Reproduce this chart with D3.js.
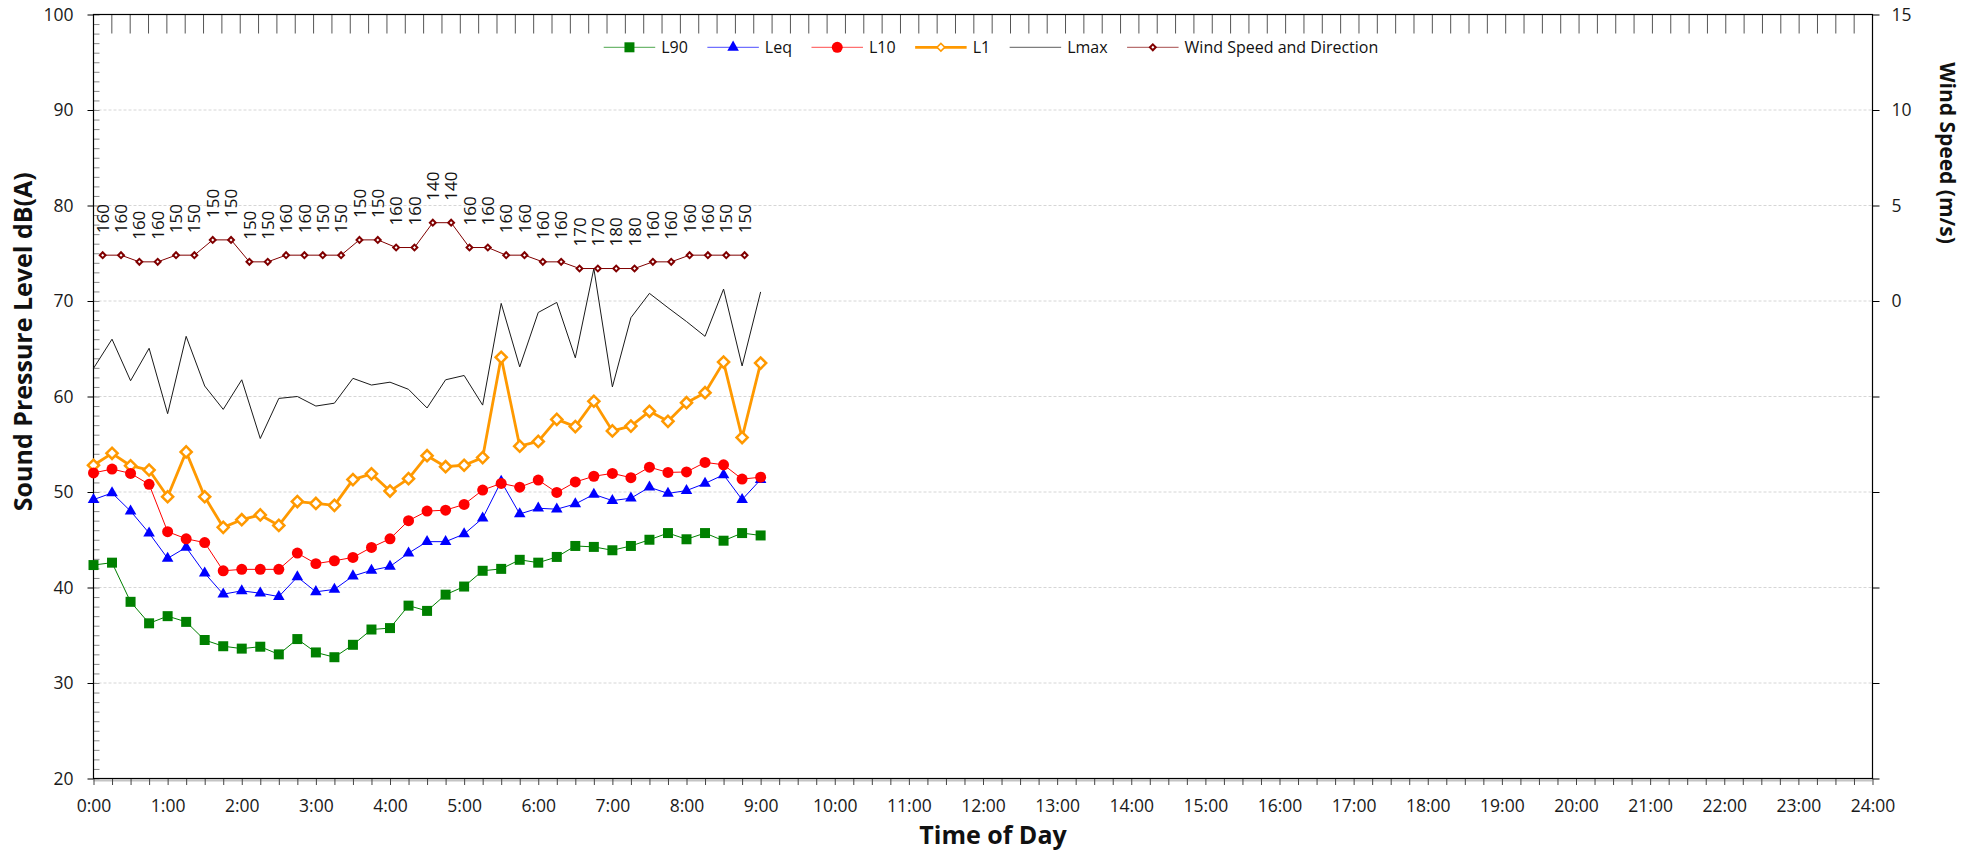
<!DOCTYPE html>
<html><head><meta charset="utf-8">
<script src="https://cdn.jsdelivr.net/npm/d3@7"></script>
<style>
body{margin:0;background:#fff;}
svg{display:block;font-family:"Open Sans","Noto Sans",sans-serif;}
</style>
</head><body>
<svg id="chart" width="1979" height="852"></svg>
<script>
// ---------- data ----------
const times = ["0:00","0:15","0:30","0:45","1:00","1:15","1:30","1:45","2:00","2:15","2:30","2:45",
  "3:00","3:15","3:30","3:45","4:00","4:15","4:30","4:45","5:00","5:15","5:30","5:45",
  "6:00","6:15","6:30","6:45","7:00","7:15","7:30","7:45","8:00","8:15","8:30","8:45","9:00"];
const L90 = [42.35,42.6,38.5,36.25,37.0,36.4,34.5,33.85,33.6,33.8,33.0,34.6,33.2,32.7,34.0,35.6,35.75,38.1,37.55,39.25,
  40.1,41.75,41.95,42.9,42.6,43.2,44.35,44.25,43.9,44.35,45.0,45.7,45.05,45.7,44.9,45.7,45.45];
const Leq = [49.2,49.9,48.0,45.7,43.05,44.2,41.5,39.3,39.65,39.4,39.05,41.1,39.55,39.8,41.2,41.8,42.2,43.6,44.8,44.8,
  45.6,47.25,51.1,47.7,48.3,48.2,48.75,49.75,49.1,49.35,50.5,49.85,50.15,50.9,51.8,49.2,51.3];
const L10 = [52.0,52.4,51.95,50.8,45.85,45.1,44.7,41.75,41.9,41.9,41.9,43.6,42.5,42.8,43.15,44.2,45.1,47.0,48.0,48.1,
  48.7,50.2,50.9,50.5,51.25,49.95,51.05,51.65,51.95,51.5,52.6,52.05,52.1,53.1,52.85,51.35,51.55];
const L1 = [52.8,54.05,52.75,52.3,49.5,54.2,49.5,46.3,47.1,47.6,46.5,49.0,48.8,48.6,51.3,51.9,50.1,51.4,53.8,52.65,
  52.8,53.6,64.1,54.8,55.3,57.6,56.85,59.5,56.4,56.9,58.45,57.4,59.35,60.4,63.6,55.7,63.5];
const Lmax = [62.95,66.0,61.65,65.05,58.2,66.3,61.1,58.65,61.75,55.6,59.8,60.0,59.0,59.3,61.9,61.2,61.5,60.75,58.8,61.75,
  62.2,59.1,69.75,63.1,68.8,69.85,64.05,73.4,61.0,68.25,70.8,69.3,67.85,66.3,71.25,63.2,70.95];

const windTimes = ["0:00","0:15","0:30","0:45","1:00","1:15","1:30","1:45","2:00","2:15","2:30","2:45",
  "3:00","3:15","3:30","3:45","4:00","4:15","4:30","4:45","5:00","5:15","5:30","5:45",
  "6:00","6:15","6:30","6:45","7:00","7:15","7:30","7:45","8:00","8:15","8:30","8:45"];
const windSpeed = [2.4,2.4,2.05,2.05,2.4,2.4,3.2,3.2,2.05,2.05,2.4,2.4,2.4,2.4,3.2,3.2,2.8,2.8,4.1,4.1,
  2.8,2.8,2.4,2.4,2.05,2.05,1.7,1.7,1.7,1.7,2.05,2.05,2.4,2.4,2.4,2.4];
const windDir = [160,160,160,160,150,150,150,150,150,150,160,160,150,150,150,150,160,160,140,140,
  160,160,160,160,160,160,170,170,180,180,160,160,160,160,150,150];

const hourLabels = ["0:00","1:00","2:00","3:00","4:00","5:00","6:00","7:00","8:00","9:00","10:00","11:00","12:00",
  "13:00","14:00","15:00","16:00","17:00","18:00","19:00","20:00","21:00","22:00","23:00","24:00"];
const dbTicks = [20,30,40,50,60,70,80,90,100];
const windTicks = [-25,-20,-15,-10,-5,0,5,10,15];

// ---------- layout ----------
const L = 93.5, R = 1872.5, T = 14.5, B = 778.5;
const svg = d3.select("#chart");
const parseT = t => { const p = t.split(":").map(Number); return p[0] + p[1] / 60; };

const x = d3.scaleLinear().domain([0, 24]).range([L, R]);
const y = d3.scaleLinear().domain([20, 100]).range([B, T]);
const y2 = d3.scaleLinear().domain([-25, 15]).range([B, T]);
const xc = d3.scaleBand().domain(d3.range(97)).range([L, R]).padding(0);
const xw = t => xc(Math.round(parseT(t) * 4)) + xc.bandwidth() / 2;

// gridlines
svg.append("g").selectAll("line").data(dbTicks.filter(v => v > 20 && v < 100)).join("line")
  .attr("x1", L).attr("x2", R).attr("y1", d => y(d)).attr("y2", d => y(d))
  .attr("stroke", "#d6d6d6").attr("stroke-width", 1).attr("stroke-dasharray", "3,2");

// top category ticks (secondary x axis)
svg.append("g").selectAll("line").data(d3.range(98)).join("line")
  .attr("x1", k => L + k * xc.bandwidth()).attr("x2", k => L + k * xc.bandwidth())
  .attr("y1", T).attr("y2", T + 19).attr("stroke", "#555").attr("stroke-width", 1);

// left minor ticks (inward)
const minor = svg.append("g").attr("transform", `translate(${L},0)`)
  .call(d3.axisRight(y).tickValues(d3.range(20, 101, 1)).tickSize(6).tickFormat(""));
minor.select(".domain").remove();
minor.selectAll("line").attr("stroke", "#8a8a8a");

// left major axis
const ax = svg.append("g").attr("transform", `translate(${L},0)`)
  .call(d3.axisLeft(y).tickValues(dbTicks).tickSize(6).tickPadding(14).tickFormat(d3.format("d")));
ax.select(".domain").remove();
ax.selectAll("text").attr("font-size", 17.5).attr("fill", "#1a1a1a").attr("font-family", "Open Sans");

// right axis
const ax2 = svg.append("g").attr("transform", `translate(${R},0)`)
  .call(d3.axisRight(y2).tickValues(windTicks).tickSize(7).tickPadding(12).tickFormat(v => v >= 0 ? v : ""));
ax2.select(".domain").remove();
ax2.selectAll("text").attr("font-size", 17.5).attr("fill", "#1a1a1a").attr("font-family", "Open Sans");

// bottom axis
svg.append("line").attr("x1", L).attr("x2", R).attr("y1", B + 2).attr("y2", B + 2)
  .attr("stroke", "#c4c4c4").attr("stroke-width", 2);
const axb = svg.append("g").attr("transform", `translate(0,${B})`)
  .call(d3.axisBottom(x).tickValues(d3.range(0, 24.001, 0.25)).tickSize(6.5).tickPadding(15)
    .tickFormat(v => Number.isInteger(v) ? hourLabels[v] : ""));
axb.select(".domain").remove();
axb.selectAll("line").attr("stroke", "#444");
axb.selectAll("text").attr("font-size", 17.5).attr("fill", "#1a1a1a").attr("font-family", "Open Sans");

// frame
svg.append("rect").attr("x", L).attr("y", T).attr("width", R - L).attr("height", B - T)
  .attr("fill", "none").attr("stroke", "#000").attr("stroke-width", 1.2);

// titles
svg.append("text").attr("x", 993).attr("y", 843.5).attr("text-anchor", "middle")
  .attr("font-size", 25).attr("font-weight", "bold").attr("fill", "#111").text("Time of Day");
svg.append("text").attr("transform", "translate(31.5,341.7) rotate(-90)").attr("text-anchor", "middle")
  .attr("font-size", 25).attr("font-weight", "bold").attr("fill", "#111").text("Sound Pressure Level dB(A)");
svg.append("text").attr("transform", "translate(1940,153) rotate(90)").attr("text-anchor", "middle")
  .attr("font-size", 21).attr("font-weight", "bold").attr("fill", "#111").text("Wind Speed (m/s)");

// ---------- series ----------
const symbols = {
  square: d3.symbol(d3.symbolSquare, 100)(),
  triangle: d3.symbol(d3.symbolTriangle, 58)(),
  circle: d3.symbol(d3.symbolCircle, 95)(),
  diamond: d3.symbol(d3.symbolSquare, 62)(),
  smallDiamond: d3.symbol(d3.symbolSquare, 17)()
};

const series = [
  {name: "L90", values: L90, color: "#008000", width: 1, sym: "square", fill: "#008000", sw: 0, rot: 0},
  {name: "Leq", values: Leq, color: "#0000ff", width: 1, sym: "triangle", fill: "#0000ff", sw: 0, rot: 0},
  {name: "L10", values: L10, color: "#ff0000", width: 1, sym: "circle", fill: "#ff0000", sw: 0, rot: 0},
  {name: "L1", values: L1, color: "#ff9900", width: 2.8, sym: "diamond", fill: "#fff", sw: 2.5, rot: 45},
  {name: "Lmax", values: Lmax, color: "#1a1a1a", width: 1, sym: null}
];
const drawOrder = ["Lmax", "L1", "L90", "Leq", "L10"];

const line = d3.line().x(d => x(parseT(d.t))).y(d => y(d.v));
drawOrder.forEach(n => {
  const s = series.find(q => q.name === n);
  const pts = times.map((t, i) => ({t, v: s.values[i]}));
  const g = svg.append("g");
  g.append("path").datum(pts).attr("d", line).attr("fill", "none")
    .attr("stroke", s.color).attr("stroke-width", s.width).attr("stroke-linejoin", "round");
  if (s.sym) {
    g.selectAll("path.m").data(pts).join("path").attr("class", "m")
      .attr("d", symbols[s.sym])
      .attr("transform", d => `translate(${x(parseT(d.t))},${y(d.v)}) rotate(${s.rot})`)
      .attr("fill", s.fill).attr("stroke", s.sw ? s.color : "none").attr("stroke-width", s.sw);
  }
});

// wind speed & direction (secondary axes)
const wpts = windTimes.map((t, i) => ({t, v: windSpeed[i], dir: windDir[i]}));
const gw = svg.append("g");
gw.append("path").datum(wpts)
  .attr("d", d3.line().x(d => xw(d.t)).y(d => y2(d.v)))
  .attr("fill", "none").attr("stroke", "#800000").attr("stroke-width", 1);
gw.selectAll("path.m").data(wpts).join("path").attr("class", "m")
  .attr("d", symbols.smallDiamond)
  .attr("transform", d => `translate(${xw(d.t)},${y2(d.v)}) rotate(45)`)
  .attr("fill", "#fff").attr("stroke", "#800000").attr("stroke-width", 2);
gw.selectAll("text").data(wpts).join("text")
  .attr("transform", d => `translate(${xw(d.t)},${y2(d.v) - 22}) rotate(-90)`)
  .attr("dy", "0.36em").attr("font-size", 17).attr("fill", "#111").text(d => d.dir);

// ---------- legend ----------
const legendItems = [
  {label: "L90", color: "#008000", lw: 1, sym: "square", fill: "#008000", sw: 0, rot: 0},
  {label: "Leq", color: "#0000ff", lw: 1, sym: "triangle", fill: "#0000ff", sw: 0, rot: 0},
  {label: "L10", color: "#ff0000", lw: 1, sym: "circle", fill: "#ff0000", sw: 0, rot: 0},
  {label: "L1", color: "#ff9900", lw: 2.8, sym: "diamond", fill: "#fff", sw: 2.2, rot: 45, scale: 0.7},
  {label: "Lmax", color: "#1a1a1a", lw: 1, sym: null},
  {label: "Wind Speed and Direction", color: "#800000", lw: 1, sym: "smallDiamond", fill: "#fff", sw: 2, rot: 45}
];
const leg = svg.append("g");
const ly = 47.3, lineLen = 51.5, gapText = 6, gapItem = 19.5;
const items = legendItems.map(it => {
  const g = leg.append("g");
  g.append("line").attr("x1", 0).attr("x2", lineLen).attr("y1", ly).attr("y2", ly)
    .attr("stroke", it.color).attr("stroke-width", it.lw).attr("stroke-opacity", it.lw > 1 ? 1 : 0.7);
  if (it.sym) {
    g.append("path").attr("d", symbols[it.sym])
      .attr("transform", `translate(${lineLen / 2},${ly}) rotate(${it.rot}) scale(${it.scale || 1})`)
      .attr("fill", it.fill).attr("stroke", it.sw ? it.color : "none").attr("stroke-width", it.sw);
  }
  const tx = g.append("text").attr("x", lineLen + gapText).attr("y", ly + 5.8)
    .attr("font-size", 16).attr("fill", "#111").text(it.label);
  const w = lineLen + gapText + tx.node().getComputedTextLength();
  return {g, w};
});
const total = d3.sum(items, d => d.w) + gapItem * (items.length - 1);
let cx = 991 - total / 2;
items.forEach(it => { it.g.attr("transform", `translate(${cx},0)`); cx += it.w + gapItem; });
</script>
</body></html>
